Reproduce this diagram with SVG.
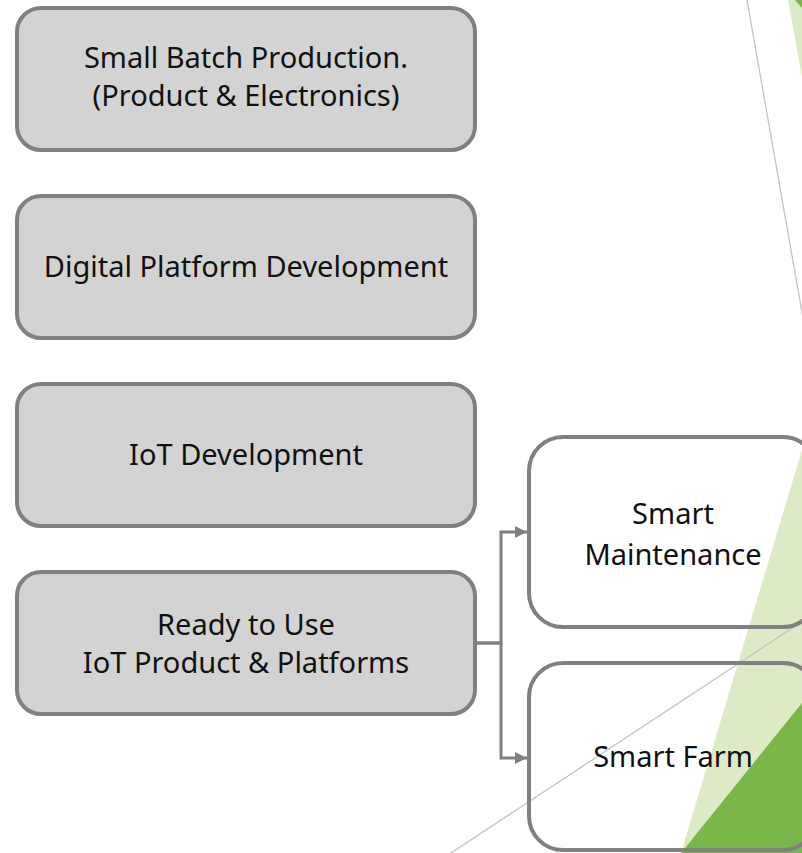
<svg xmlns="http://www.w3.org/2000/svg" width="802" height="853" viewBox="0 0 802 853">
  <style>
    .lbl { font-family: "Noto Sans", "Open Sans", sans-serif; font-size: 29px; fill: #111; text-anchor: middle; }
    .grey { fill: #d3d3d3; stroke: #808080; stroke-width: 4; }
    .open { fill: none; stroke: #808080; stroke-width: 4; }
    .conn { fill: none; stroke: #808080; stroke-width: 3; }
    .deco { stroke: #c4c4c4; stroke-width: 1.3; fill: none; }
  </style>
  <defs>
    <marker id="arrow" markerUnits="userSpaceOnUse" markerWidth="12" markerHeight="14" refX="12" refY="7" orient="auto">
      <path d="M0,1 L12,7 L0,13 Z" fill="#808080"/>
    </marker>
  </defs>

  <rect width="802" height="853" fill="#ffffff"/>

  <!-- decorative facets on the right edge -->
  <g id="decor">
    <polygon points="788,0 802,0 802,77" fill="#dcebc5"/>
    <polygon points="795,0 802,0 802,8" fill="#79b74b"/>
    <polygon points="681,853 802,450 802,853" fill="#dcebc5"/>
    <polygon points="681,853 802,703 802,853" fill="#79b74b"/>
    <line class="deco" x1="747" y1="0" x2="803" y2="318"/>
    <line class="deco" x1="451" y1="853" x2="803" y2="621"/>
  </g>

  <!-- left column -->
  <g id="small-batch">
    <rect class="grey" x="17" y="8" width="458" height="142" rx="24"/>
    <text class="lbl" x="246" y="68">Small Batch Production.</text>
    <text class="lbl" x="246" y="105.5">(Product &amp; Electronics)</text>
  </g>
  <g id="digital-platform">
    <rect class="grey" x="17" y="196" width="458" height="142" rx="24"/>
    <text class="lbl" x="246" y="277">Digital Platform Development</text>
  </g>
  <g id="iot-development">
    <rect class="grey" x="17" y="384" width="458" height="142" rx="24"/>
    <text class="lbl" x="246" y="465">IoT Development</text>
  </g>
  <g id="ready-to-use">
    <rect class="grey" x="17" y="572" width="458" height="142" rx="24"/>
    <text class="lbl" x="246" y="635">Ready to Use</text>
    <text class="lbl" x="246" y="672.5">IoT Product &amp; Platforms</text>
  </g>

  <!-- right column -->
  <g id="smart-maintenance">
    <rect class="open" x="529" y="437" width="288" height="190" rx="34"/>
    <text class="lbl" x="673" y="524">Smart</text>
    <text class="lbl" x="673" y="565">Maintenance</text>
  </g>
  <g id="smart-farm">
    <rect class="open" x="529" y="663" width="288" height="187" rx="34"/>
    <text class="lbl" x="673" y="767">Smart Farm</text>
  </g>

  <!-- connectors -->
  <g id="connectors">
    <path class="conn" d="M476,643 H501 V532 H527" marker-end="url(#arrow)"/>
    <path class="conn" d="M476,643 H501 V758 H527" marker-end="url(#arrow)"/>
  </g>
</svg>
